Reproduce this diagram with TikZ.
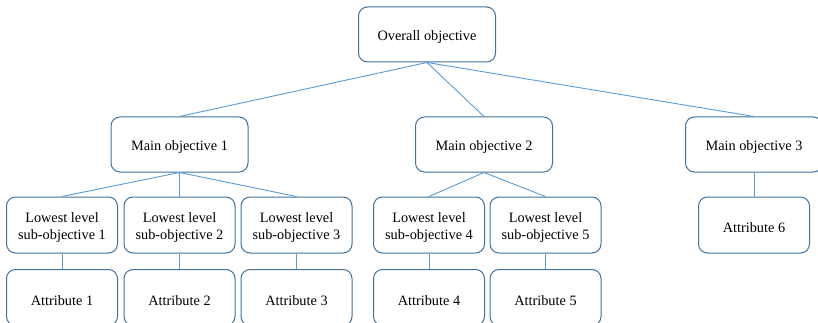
\documentclass[tikz,border=0pt]{standalone}
\usepackage{fontspec}
\setmainfont{Liberation Serif}
\definecolor{boxc}{HTML}{41719C}
\definecolor{linec}{HTML}{5B9BD5}
\newcommand\upstrut{\rule{0pt}{16pt}}
\begin{document}
\begin{tikzpicture}[x=1pt,y=-1pt,
  box/.style={draw=boxc, line width=1pt, rounded corners=9pt, fill=white, align=center,
    font=\fontsize{14.3}{17}\selectfont, inner sep=0pt},
  topbox/.style={box, minimum width=137pt, minimum height=55pt},
  subbox/.style={box, minimum width=111pt, minimum height=56pt},
  link/.style={draw=linec, line width=0.9pt}]
\useasboundingbox (0,0) rectangle (818,323);
\clip (0,0) rectangle (818,323);
\node[topbox] (o) at (427,34.5) {\upstrut Overall objective};
\node[topbox] (m1) at (179.5,144.5) {\upstrut Main objective 1};
\node[topbox] (m2) at (484,144.5) {\upstrut Main objective 2};
\node[topbox] (m3) at (754,144.5) {\upstrut Main objective 3};
\node[subbox] (s1) at (62,225) {\upstrut Lowest level\\sub-objective 1};
\node[subbox] (s2) at (179.5,225) {\upstrut Lowest level\\sub-objective 2};
\node[subbox] (s3) at (296.5,225) {\upstrut Lowest level\\sub-objective 3};
\node[subbox] (s4) at (429,225) {\upstrut Lowest level\\sub-objective 4};
\node[subbox] (s5) at (545.5,225) {\upstrut Lowest level\\sub-objective 5};
\node[subbox] (a6) at (754,225) {\upstrut Attribute 6};
\node[subbox] (a1) at (62,297.5) {\upstrut Attribute 1};
\node[subbox] (a2) at (179.5,297.5) {\upstrut Attribute 2};
\node[subbox] (a3) at (296.5,297.5) {\upstrut Attribute 3};
\node[subbox] (a4) at (429,297.5) {\upstrut Attribute 4};
\node[subbox] (a5) at (545.5,297.5) {\upstrut Attribute 5};
\draw[link] (o.south) -- (m1.north);
\draw[link] (o.south) -- (m2.north);
\draw[link] (o.south) -- (m3.north);
\draw[link] (m1.south) -- (s1.north);
\draw[link] (m1.south) -- (s2.north);
\draw[link] (m1.south) -- (s3.north);
\draw[link] (m2.south) -- (s4.north);
\draw[link] (m2.south) -- (s5.north);
\draw[link] (m3.south) -- (a6.north);
\draw[link] (s1.south) -- (a1.north);
\draw[link] (s2.south) -- (a2.north);
\draw[link] (s3.south) -- (a3.north);
\draw[link] (s4.south) -- (a4.north);
\draw[link] (s5.south) -- (a5.north);
\end{tikzpicture}
\end{document}
